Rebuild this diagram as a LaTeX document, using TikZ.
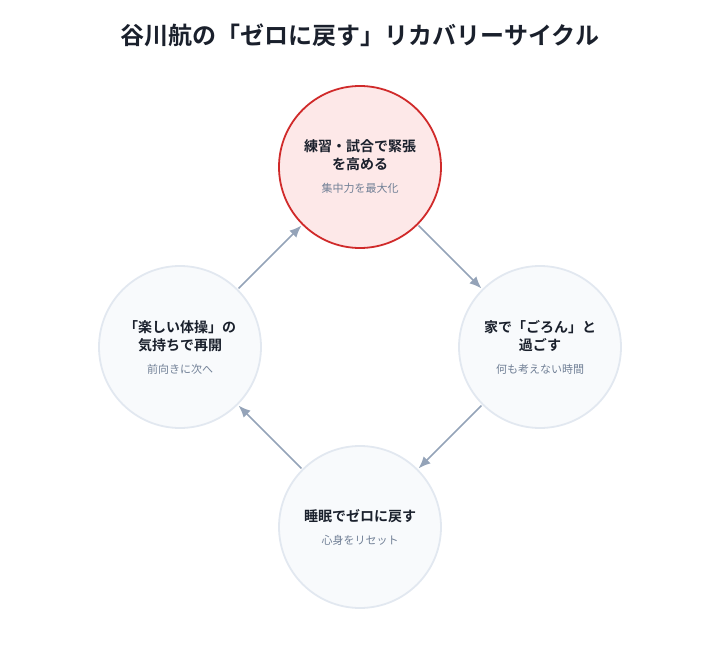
\documentclass[tikz,border=0pt]{standalone}
\usepackage{fontspec}
\setmainfont{Noto Sans CJK JP}[BoldFont={Noto Sans CJK JP Bold}]
\usetikzlibrary{arrows.meta}
\definecolor{titlecol}{HTML}{1A202C}
\definecolor{subcol}{HTML}{718096}
\definecolor{hotfill}{HTML}{FDE8E8}
\definecolor{hotline}{HTML}{D02A2A}
\definecolor{calmfill}{HTML}{F8FAFC}
\definecolor{calmline}{HTML}{E2E8F0}
\definecolor{arrowcol}{HTML}{94A3B8}
\newcommand{\subtext}[1]{{\fontsize{11}{14}\selectfont\mdseries\color{subcol}#1}}
\begin{document}
\begin{tikzpicture}[
            x=1pt, y=1pt,
            stage/.style = {shape=circle, draw=calmline, line width=1.8pt, fill=calmfill, minimum size=162pt, inner sep=0pt, align=center, text=titlecol, font=\bfseries\fontsize{14}{18}\selectfont},
            hot/.style = {stage, draw=hotline, fill=hotfill},
            flow/.style = {draw=arrowcol, line width=1.6pt, -{Latex[length=12pt,width=10pt]}, shorten >=1pt, shorten <=1pt}
        ]
        \useasboundingbox (0,0) rectangle (720,-660);

        \node[font=\bfseries\fontsize{24}{28}\selectfont, text=titlecol] (title) at (360,-35) {谷川航の「ゼロに戻す」リカバリーサイクル};

        \node[hot] (tension) at (360,-167) {練習・試合で緊張\\を高める\\[5pt]\subtext{集中力を最大化}};
        \node[stage] (goron) at (540,-347) {家で「ごろん」と\\過ごす\\[5pt]\subtext{何も考えない時間}};
        \node[stage] (sleep) at (360,-527) {睡眠でゼロに戻す\\[5pt]\subtext{心身をリセット}};
        \node[stage] (restart) at (180,-347) {「楽しい体操」の\\気持ちで再開\\[5pt]\subtext{前向きに次へ}};

        \draw[flow] (tension) -- (goron);
        \draw[flow] (goron) -- (sleep);
        \draw[flow] (sleep) -- (restart);
        \draw[flow] (restart) -- (tension);
    \end{tikzpicture}
\end{document}
